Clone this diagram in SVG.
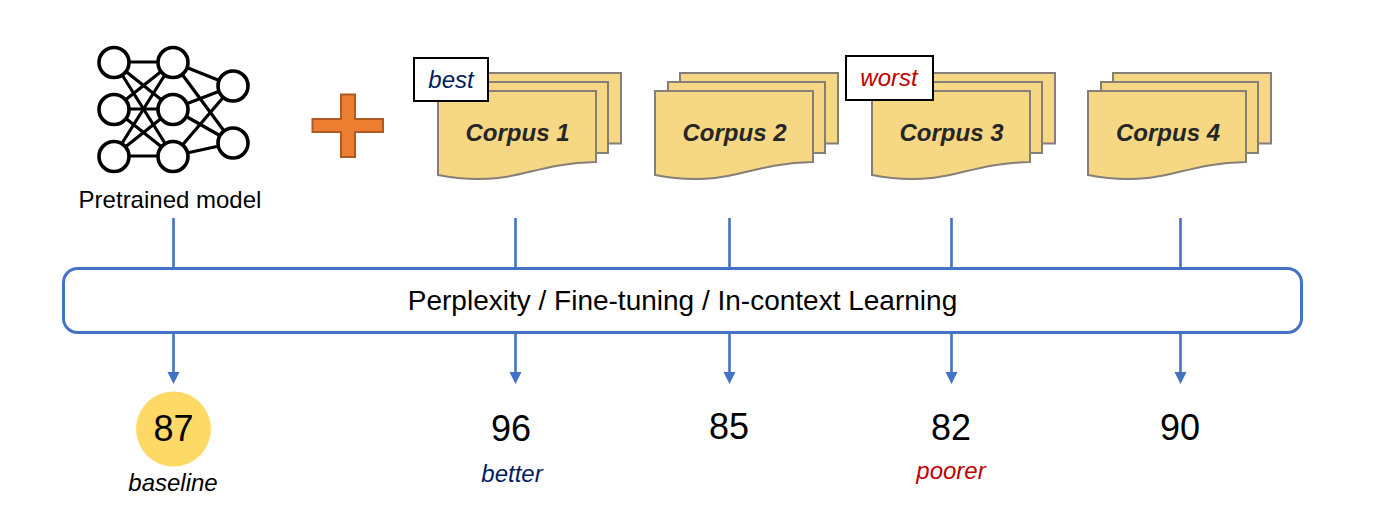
<svg xmlns="http://www.w3.org/2000/svg" width="1376" height="527" viewBox="0 0 1376 527">
<style>
text{font-family:"Liberation Sans",Arial,sans-serif;text-anchor:middle}
.nn line{stroke:#000;stroke-width:3.2}
.nn circle{fill:#fff;stroke:#000;stroke-width:3.6}
.page{fill:#f5d784;stroke:#857f78;stroke-width:2}
.corp{font-size:24px;font-weight:bold;font-style:italic;fill:#262626}
.tag{fill:#fff;stroke:#000;stroke-width:2}
.lab{font-size:24px;font-style:italic}
.num{font-size:36px;fill:#000}
.wire{stroke:#4472c4;stroke-width:2.6;fill:none}
.arr{fill:#4472c4}
</style>
<defs>
<g id="doc">
<path class="page" d="M25 0V-18H183V52.500H165V0Z"/>
<path class="page" d="M13 0V-9H170V62H155V0Z"/>
<path class="page" d="M0 0H158V71C110 72 90 84 60 87C40 89 20 88 0 84Z"/>
</g>
</defs>
<g id="connectors">
<path class="wire" d="M173.500 218V268M515.500 218V268M729.500 218V268M951.500 218V268M1180.500 218V268"/>
<path class="wire" d="M173.500 332V374M515.500 332V374M729.500 332V374M951.500 332V374M1180.500 332V374"/>
<path class="arr" d="M167.500 372H179.500L173.500 384ZM509.500 372H521.500L515.500 384ZM723.500 372H735.500L729.500 384ZM945.500 372H957.500L951.500 384ZM1174.500 372H1186.500L1180.500 384Z"/>
</g>
<g id="pretrained-model" class="nn">
<line x1="114" y1="62" x2="173" y2="62"/><line x1="114" y1="62" x2="173" y2="109"/><line x1="114" y1="62" x2="173" y2="156"/>
<line x1="114" y1="109" x2="173" y2="62"/><line x1="114" y1="109" x2="173" y2="109"/><line x1="114" y1="109" x2="173" y2="156"/>
<line x1="114" y1="156" x2="173" y2="62"/><line x1="114" y1="156" x2="173" y2="109"/><line x1="114" y1="156" x2="173" y2="156"/>
<line x1="173" y1="62" x2="233" y2="86"/><line x1="173" y1="62" x2="233" y2="143"/>
<line x1="173" y1="109" x2="233" y2="86"/><line x1="173" y1="109" x2="233" y2="143"/>
<line x1="173" y1="156" x2="233" y2="86"/><line x1="173" y1="156" x2="233" y2="143"/>
<circle cx="114" cy="62.500" r="15"/><circle cx="114" cy="109.500" r="15"/><circle cx="114" cy="156.500" r="15"/>
<circle cx="173" cy="62.500" r="15"/><circle cx="173" cy="109.500" r="15"/><circle cx="173" cy="156.500" r="15"/>
<circle cx="233" cy="86" r="15"/><circle cx="233" cy="143" r="15"/>
<text x="170" y="208" font-size="24" stroke="none">Pretrained model</text>
</g>
<g id="plus"><path d="M341 94.500H355V119H383V132H355V157H341V132H312.500V119H341Z" fill="#ed7d31" stroke="#ae5a21" stroke-width="2"/></g>
<g id="corpus-1"><use href="#doc" x="438" y="91"/><text class="corp" x="517.500" y="141">Corpus 1</text></g>
<g id="corpus-2"><use href="#doc" x="655" y="91"/><text class="corp" x="734.500" y="141">Corpus 2</text></g>
<g id="corpus-3"><use href="#doc" x="872" y="91"/><text class="corp" x="951.500" y="141">Corpus 3</text></g>
<g id="corpus-4"><use href="#doc" x="1088" y="91"/><text class="corp" x="1168" y="141">Corpus 4</text></g>
<g id="tag-best"><rect class="tag" x="414" y="58" width="74" height="43"/><text class="lab" x="451" y="88" fill="#002060">best</text></g>
<g id="tag-worst"><rect class="tag" x="846" y="56" width="87" height="44"/><text class="lab" x="889" y="86" fill="#c00000">worst</text></g>
<g id="process"><rect x="63.500" y="268.500" width="1238" height="64" rx="14" fill="#fff" stroke="#4472c4" stroke-width="3"/><text x="682.500" y="310" font-size="28" fill="#000">Perplexity / Fine-tuning / In-context Learning</text></g>
<g id="result-baseline"><circle cx="173.500" cy="429" r="37.500" fill="#ffd966"/><text class="num" x="173.500" y="441">87</text><text class="lab" x="173" y="491" fill="#000">baseline</text></g>
<g id="result-1"><text class="num" x="511" y="441">96</text><text class="lab" x="512" y="482" fill="#002060">better</text></g>
<g id="result-2"><text class="num" x="729" y="439">85</text></g>
<g id="result-3"><text class="num" x="951" y="440">82</text><text class="lab" x="951" y="479" fill="#c00000">poorer</text></g>
<g id="result-4"><text class="num" x="1180" y="440">90</text></g>
</svg>
